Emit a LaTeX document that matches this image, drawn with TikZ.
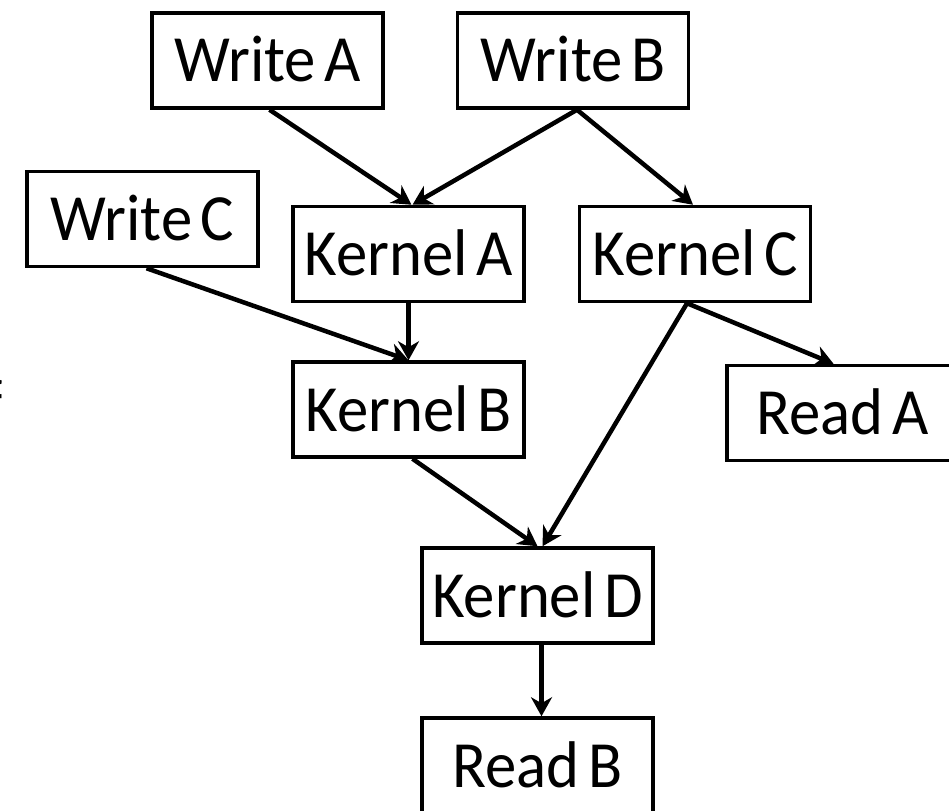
\documentclass[tikz,border=0pt]{standalone}
\usepackage{fontspec}
\setmainfont{Carlito}[FakeStretch=0.95,WordSpace=0.6]
\usetikzlibrary{arrows.meta}
\tikzset{
  box/.style={draw=black, line width=3.5pt, minimum width=231pt, minimum height=95pt,
    inner sep=0pt, text height=43pt, text depth=0pt,
    font=\fontsize{66pt}{70pt}\selectfont},
  link/.style={line width=4.5pt, -{Stealth[length=19pt,width=21pt,inset=6pt]}}
}
\begin{document}
\begin{tikzpicture}[x=1pt,y=-1pt]
\useasboundingbox (0,0) rectangle (949,810);
\node[anchor=base east, inner sep=0pt, font=\fontsize{66pt}{70pt}\selectfont] (frag) at (3,425) {f};
\node[box] (wa) at (267.5,60.5) {Write A};
\node[box] (wb) at (573,60.5) {Write B};
\node[box] (wc) at (142.5,219) {Write C};
\node[box] (ka) at (408.5,254) {Kernel A};
\node[box] (kc) at (695,254) {Kernel C};
\node[box] (kb) at (408.5,409.5) {Kernel B};
\node[box] (ra) at (842.5,413) {Read A};
\node[box] (kd) at (537.5,595.5) {Kernel D};
\node[box] (rb) at (537.5,765.5) {Read B};
\draw[link] ([xshift=2pt]wa.south) -- ([xshift=3pt]ka.north);
\draw[link] ([xshift=4pt]wb.south) -- ([xshift=4pt]ka.north);
\draw[link] ([xshift=4pt]wb.south) -- ([xshift=-2pt]kc.north);
\draw[link] ([xshift=4pt]wc.south) -- (kb.north);
\draw[link] (ka.south) -- (kb.north);
\draw[link] ([xshift=4pt]kb.south) -- (kd.north);
\draw[link] ([xshift=-8pt]kc.south) -- ([xshift=5pt]kd.north);
\draw[link] ([xshift=-8pt]kc.south) -- ([xshift=-9pt]ra.north);
\draw[link] ([xshift=4pt]kd.south) -- ([xshift=4pt]rb.north);
\end{tikzpicture}
\end{document}
